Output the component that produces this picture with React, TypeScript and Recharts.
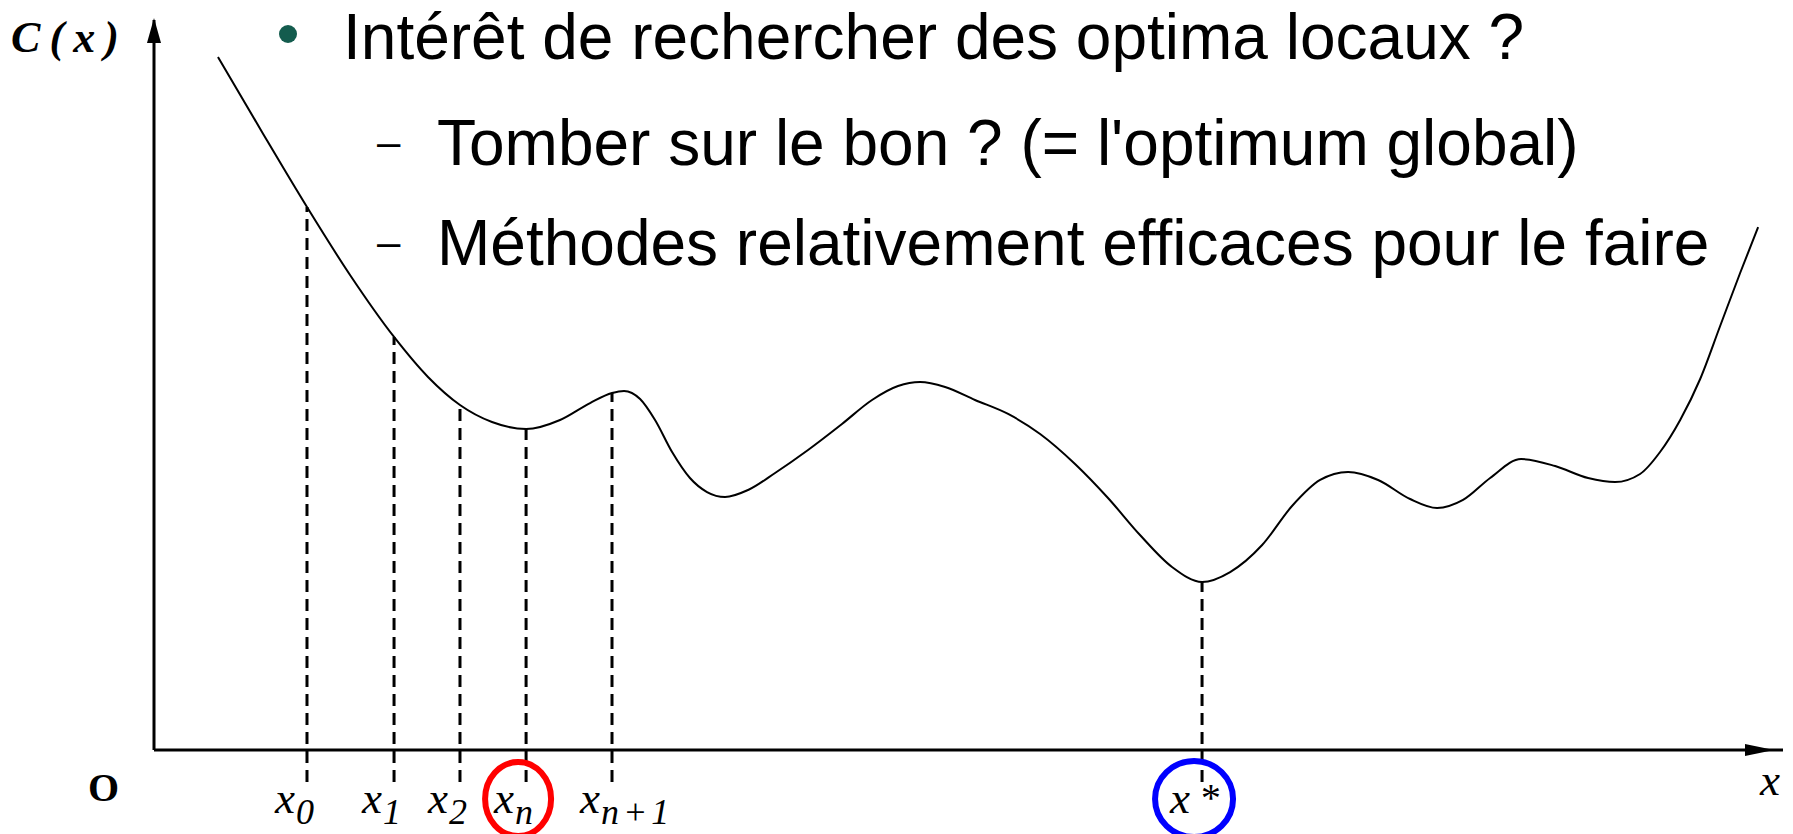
import React from 'react';
import { LineChart, Line, XAxis, YAxis, ReferenceLine, ReferenceDot } from 'recharts';

// Cost function C(x): abscissa on a 0–100 scale, cost on a 0–100 scale
const curveX = [3.94, 6.65, 9.42, 12.07, 14.78, 16.87, 18.84, 20.81, 22.91, 25.0, 26.85, 28.2, 28.94, 29.93, 30.85, 31.9, 33.0, 34.05, 35.16, 36.58, 38.24, 40.27, 42.36, 44.21, 45.81, 47.17, 48.71, 50.55, 52.59, 54.56, 56.71, 58.74, 60.71, 62.68, 64.53, 66.26, 68.23, 70.07, 71.8, 73.52, 75.37, 77.34, 79.0, 80.6, 82.27, 84.17, 86.27, 88.3, 89.96, 91.5, 92.73, 93.97, 95.2, 96.43, 97.66, 98.77];
const curveC = [94.93, 84.66, 74.38, 65.07, 56.58, 51.1, 47.26, 44.93, 43.97, 45.21, 47.53, 48.9, 49.18, 48.08, 45.21, 40.82, 37.26, 35.34, 34.66, 35.62, 37.95, 41.1, 44.66, 47.95, 49.86, 50.41, 49.73, 47.95, 46.03, 43.29, 39.18, 34.52, 29.45, 25.07, 23.01, 24.38, 28.08, 33.42, 36.99, 38.08, 36.99, 34.38, 33.15, 34.25, 37.26, 39.86, 38.9, 37.26, 36.71, 37.81, 40.82, 45.21, 50.82, 58.08, 65.34, 71.64];

// Successive iterates x0, x1, x2, ..., xn, xn+1 and the global optimum x*
const markerX = [9.42, 14.78, 18.84, 22.91, 28.2, 64.53];
const markerSub = ['0', '1', '2', 'n', 'n+1', '*'];
// Which iterates get a highlight ring around their label
const markerRing: Record<string, string> = { n: '#ff0000', '*': '#0000ff' };

const bulletTitle = 'Intérêt de rechercher des optima locaux ?';
const subPoints = ["Tomber sur le bon ? (= l'optimum global)", 'Méthodes relativement efficaces pour le faire'];

const curve = curveX.map((x, i) => ({ x, c: curveC[i] }));
const markerC = markerX.map((mx) => curveC[curveX.indexOf(mx)]);

const SERIF = '"Liberation Serif", "Times New Roman", serif';
const SANS = '"Liberation Sans", Arial, sans-serif';
const DASH_FLOOR = -4.4;

const MarkerTick = (props: any) => {
  const { x, y, payload } = props;
  const i = markerX.indexOf(payload.value);
  const sub = markerSub[i] ?? '';
  const ring = markerRing[sub];
  const isStar = sub === '*';
  return (
    <g>
      {ring && (
        <ellipse
          cx={x - 8}
          cy={y + 47}
          rx={isStar ? 39 : 33}
          ry={isStar ? 38 : 37}
          fill="none"
          stroke={ring}
          strokeWidth={6}
        />
      )}
      <text x={x - 32} y={y + 61} fontFamily={SERIF} fontStyle="italic" fontSize={45} fill="#000">
        x
        <tspan
          dx={isStar ? 9 : 1}
          dy={isStar ? -2 : 11}
          fontSize={isStar ? 40 : 36}
          letterSpacing={sub.length > 1 ? 4 : 0}
        >
          {sub}
        </tspan>
      </text>
    </g>
  );
};

const YArrow = (props: any) => {
  const { cx, cy } = props;
  return (
    <g>
      <polygon points={`${cx},${cy - 2} ${cx - 7},${cy + 23} ${cx + 7},${cy + 23}`} fill="#000" />
      <text
        x={cx - 143}
        y={cy + 32}
        fontFamily={SERIF}
        fontStyle="italic"
        fontWeight="bold"
        fontSize={44}
        textLength={108}
        lengthAdjust="spacing"
        fill="#000"
      >
        C(x)
      </text>
    </g>
  );
};

const XArrow = (props: any) => {
  const { cx, cy } = props;
  return (
    <g>
      <polygon points={`${cx - 9},${cy} ${cx - 38},${cy - 6} ${cx - 38},${cy + 6}`} fill="#000" />
      <text x={cx - 23} y={cy + 45} fontFamily={SERIF} fontStyle="italic" fontSize={45} fill="#000">
        x
      </text>
    </g>
  );
};

const OriginLabel = (props: any) => {
  const { cx, cy } = props;
  return (
    <text x={cx - 66} y={cy + 51} fontFamily={SERIF} fontWeight="bold" fontSize={40} fill="#000">
      O
    </text>
  );
};

export default function App() {
  return (
    <div style={{ position: 'absolute', left: 0, top: 0, width: 1793, height: 834, background: '#fff' }}>
      <LineChart width={1793} height={834} data={curve} margin={{ top: 20, right: 10, bottom: 0, left: 0 }}>
        <XAxis
          dataKey="x"
          type="number"
          domain={[0, 100.3]}
          ticks={markerX}
          interval={0}
          tick={<MarkerTick />}
          tickLine={false}
          tickSize={0}
          axisLine={{ stroke: '#000', strokeWidth: 3 }}
          height={84}
          allowDataOverflow
        />
        <YAxis
          type="number"
          domain={[0, 100]}
          tick={false}
          tickLine={false}
          axisLine={{ stroke: '#000', strokeWidth: 3 }}
          width={154}
          allowDataOverflow
        />
        {markerX.map((mx, i) => (
          <ReferenceLine
            key={mx}
            segment={[
              { x: mx, y: DASH_FLOOR },
              { x: mx, y: markerC[i] },
            ]}
            stroke="#000"
            strokeWidth={3}
            strokeDasharray="12 7"
            ifOverflow="visible"
          />
        ))}
        <Line
          dataKey="c"
          type="monotone"
          stroke="#000"
          strokeWidth={2}
          dot={false}
          activeDot={false}
          isAnimationActive={false}
        />
        <ReferenceDot x={0} y={100} r={0} ifOverflow="visible" shape={(p: any) => <YArrow {...p} />} />
        <ReferenceDot x={100.3} y={0} r={0} ifOverflow="visible" shape={(p: any) => <XArrow {...p} />} />
        <ReferenceDot x={0} y={0} r={0} ifOverflow="visible" shape={(p: any) => <OriginLabel {...p} />} />
      </LineChart>
      <svg
        width={1793}
        height={834}
        style={{ position: 'absolute', left: 0, top: 0, pointerEvents: 'none' }}
      >
        <circle cx={288} cy={34} r={9} fill="#145c4e" />
        <text x={343} y={59} fontFamily={SANS} fontSize={64} fill="#000">
          {bulletTitle}
        </text>
        {subPoints.map((t, i) => (
          <g key={t}>
            <text x={377} y={156 + i * 100} fontFamily={SANS} fontSize={42} fill="#000">
              –
            </text>
            <text x={437} y={165 + i * 100} fontFamily={SANS} fontSize={64} fill="#000">
              {t}
            </text>
          </g>
        ))}
      </svg>
    </div>
  );
}
